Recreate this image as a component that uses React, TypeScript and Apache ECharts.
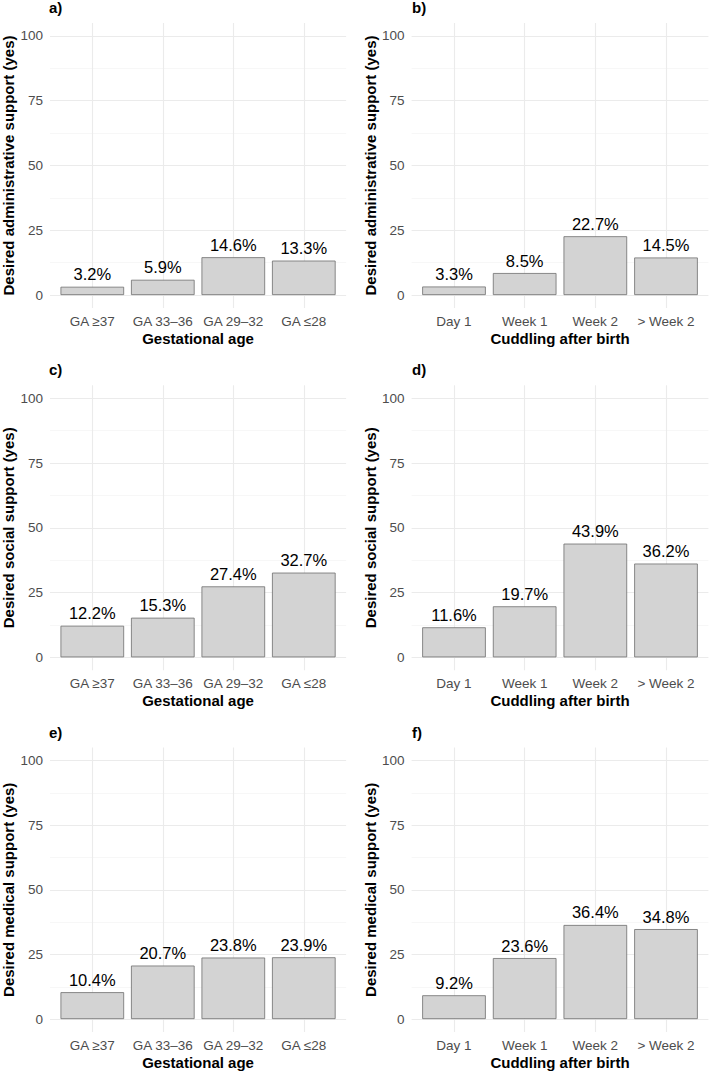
import React, { useEffect, useRef } from "react";
import * as echarts from "echarts";

// Category labels for the two groupings
const gaCategories = ["GA \u226537", "GA 33\u201336", "GA 29\u201332", "GA \u226428"];
const cuddleCategories = ["Day 1", "Week 1", "Week 2", "> Week 2"];

// Share of parents (%) answering "yes"
const adminByGA = [3.2, 5.9, 14.6, 13.3];
const adminByCuddle = [3.3, 8.5, 22.7, 14.5];
const socialByGA = [12.2, 15.3, 27.4, 32.7];
const socialByCuddle = [11.6, 19.7, 43.9, 36.2];
const medicalByGA = [10.4, 20.7, 23.8, 23.9];
const medicalByCuddle = [9.2, 23.6, 36.4, 34.8];

const majorTicks = [0, 25, 50, 75, 100];
const minorTicks = [12.5, 37.5, 62.5, 87.5];

const panelTags = ["a)", "b)", "c)", "d)", "e)", "f)"];
const yTitles = [
  "Desired administrative support (yes)",
  "Desired administrative support (yes)",
  "Desired social support (yes)",
  "Desired social support (yes)",
  "Desired medical support (yes)",
  "Desired medical support (yes)",
];
const xTitles = ["Gestational age", "Cuddling after birth"];

const panelValues = [adminByGA, adminByCuddle, socialByGA, socialByCuddle, medicalByGA, medicalByCuddle];

const FONT = "Liberation Sans, Arial, Helvetica, sans-serif";
const GRID_COLOR = "#ebebeb";

export default function App() {
  const ref = useRef<HTMLDivElement>(null);

  useEffect(() => {
    document.body.style.margin = "0";
    if (!ref.current) return;
    const chart = echarts.init(ref.current, undefined, { renderer: "svg" });

    const colLeft = [49.3, 411.6];
    const plotW = 296.8;
    const rowTop = [23, 385.3, 747.6];
    const plotH = 285;

    const grids: any[] = [];
    const xAxes: any[] = [];
    const yAxes: any[] = [];
    const series: any[] = [];
    const titles: any[] = [];

    panelValues.forEach((vals, i) => {
      const col = i % 2;
      const row = Math.floor(i / 2);
      const cats = col === 0 ? gaCategories : cuddleCategories;
      grids.push({ left: colLeft[col], top: rowTop[row], width: plotW, height: plotH, containLabel: false });

      xAxes.push({
        type: "value",
        gridIndex: i,
        min: 0.4,
        max: 4.6,
        axisLine: { show: false },
        axisTick: { show: false, customValues: [1, 2, 3, 4] },
        axisLabel: {
          customValues: [1, 2, 3, 4],
          formatter: (v: number) => cats[Math.round(v) - 1] ?? "",
          color: "#4d4d4d",
          fontSize: 13.5,
          fontFamily: FONT,
          margin: 6,
        },
        splitLine: { show: true, lineStyle: { color: GRID_COLOR, width: 1.1 } },
        name: xTitles[col],
        nameLocation: "middle",
        nameGap: 23,
        nameTextStyle: { fontSize: 15, fontWeight: "bold", color: "#000", fontFamily: FONT },
      });

      // major gridlines + labels
      yAxes.push({
        type: "value",
        gridIndex: i,
        min: -5,
        max: 105,
        axisLine: { show: false },
        axisTick: { show: false, customValues: majorTicks },
        axisLabel: {
          customValues: majorTicks,
          color: "#4d4d4d",
          fontSize: 13.5,
          fontFamily: FONT,
          margin: 7,
        },
        splitLine: { show: true, lineStyle: { color: GRID_COLOR, width: 1.1 } },
        name: yTitles[i],
        nameLocation: "middle",
        nameRotate: 90,
        nameGap: 34,
        nameTextStyle: { fontSize: 15, fontWeight: "bold", color: "#000", fontFamily: FONT },
      });
      // minor gridlines
      yAxes.push({
        type: "value",
        gridIndex: i,
        position: "left",
        min: -5,
        max: 105,
        axisLine: { show: false },
        axisTick: { show: false, customValues: minorTicks },
        axisLabel: { show: false, customValues: minorTicks },
        splitLine: { show: true, lineStyle: { color: "#f1f1f1", width: 0.6 } },
      });

      series.push({
        type: "bar",
        xAxisIndex: i,
        yAxisIndex: i * 2,
        data: vals.map((v, k) => [k + 1, v]),
        barWidth: plotW / 4.2 * 0.9,
        itemStyle: { color: "#d3d3d3", borderColor: "#6e6e6e", borderWidth: 0.8 },
        label: {
          show: true,
          position: "top",
          distance: 4,
          formatter: (p: any) => `${p.value[1].toFixed(1)}%`,
          color: "#000",
          fontSize: 16.5,
          fontFamily: FONT,
        },
        z: 3,
      });

      titles.push({
        text: panelTags[i],
        left: col === 0 ? 49 : 412,
        top: row === 0 ? 0 : row * 362.3,
        padding: 0,
        textStyle: { fontSize: 15, fontWeight: "bold", color: "#000", fontFamily: FONT },
      });
    });

    chart.setOption({
      animation: false,
      backgroundColor: "#fff",
      title: titles,
      grid: grids,
      xAxis: xAxes,
      yAxis: yAxes,
      series,
    });

    return () => chart.dispose();
  }, []);

  return <div ref={ref} style={{ width: 709, height: 1071 }} />;
}
